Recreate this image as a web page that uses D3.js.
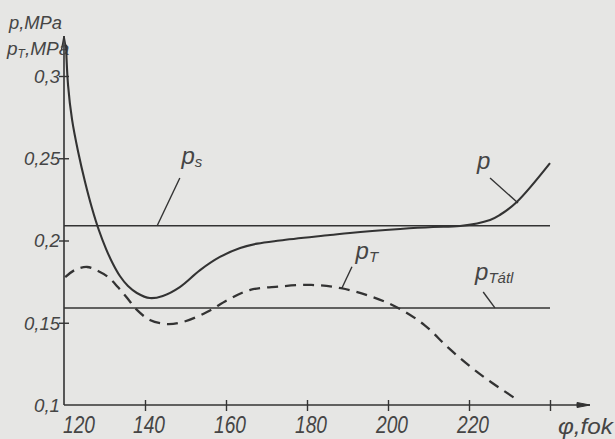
<!DOCTYPE html>
<html>
<head>
<meta charset="utf-8">
<script src="https://cdn.jsdelivr.net/npm/d3@7"></script>
<style>
  html, body { margin: 0; padding: 0; background: #e6e6e4; }
  svg { display: block; }
  text { font-family: "Liberation Sans", Arial, sans-serif; font-style: italic; fill: #454545; }
</style>
</head>
<body>
<svg id="chart" width="615" height="439"></svg>
<script>
// ---- data ----
const xTicks = [140, 160, 180, 200, 220, 240];
const xTickLabels = ["140", "160", "180", "200", "220", ""];
const xOriginLabel = "120";
const yTicks = [0.1, 0.15, 0.2, 0.25, 0.3];
const yTickLabels = ["0,1", "0,15", "0,2", "0,25", "0,3"];

// p curve (solid)
const phiP = [120.5, 121.0, 122.0, 123.5, 125.2, 126.9, 128.6, 130.4, 132.1, 133.8, 135.8, 138.0, 141.2, 144.4, 148.6, 153.6, 158.5, 163.5, 167.7, 173.3, 185.7, 190.6, 203.0, 211.1, 217.8, 225.2, 227.6, 231.8, 240.0];
const valP = [0.319, 0.2945, 0.2733, 0.2538, 0.2356, 0.2198, 0.2064, 0.1948, 0.1857, 0.1784, 0.1723, 0.1681, 0.165, 0.1663, 0.1717, 0.182, 0.190, 0.1954, 0.1981, 0.2000, 0.2033, 0.2046, 0.207, 0.2082, 0.2088, 0.2125, 0.2155, 0.2234, 0.247];

// pT curve (dashed)
const phiT = [120.3, 122.7, 125.7, 128.4, 130.9, 133.3, 135.6, 138.0, 141.2, 145.4, 149.4, 155.3, 160.5, 166, 173, 181, 188.4, 195.8, 202.5, 209, 214.8, 220.5, 225.4, 231.4];
const valT = [0.1778, 0.1821, 0.1839, 0.1815, 0.1778, 0.1717, 0.165, 0.1578, 0.1517, 0.1492, 0.1505, 0.1565, 0.164, 0.170, 0.172, 0.173, 0.171, 0.166, 0.159, 0.1486, 0.135, 0.123, 0.114, 0.104];

// constant levels
const psLevel = 0.209;
const pTatlLevel = 0.159;
const levelRange = [120, 240];

const W = 615, H = 439;
const svg = d3.select("#chart");
const ink = "#333";

const x = d3.scaleLinear().domain([120, 240]).range([64, 550]);
const y = d3.scaleLinear().domain([0.1, 0.3]).range([405, 76]);

// background
svg.append("rect").attr("width", W).attr("height", H).attr("fill", "#e6e6e4");

// axes lines with arrows
const axisG = svg.append("g").attr("stroke", ink).attr("fill", "none");
axisG.append("line").attr("x1", x(120)).attr("y1", y(0.1)).attr("x2", x(120)).attr("y2", y(0.3) - 40).attr("stroke-width", 1.6);
axisG.append("path").attr("d", `M${x(120)-2.5},${y(0.3)-26} L${x(120)},${y(0.3)-40} L${x(120)+2.5},${y(0.3)-26}`).attr("stroke-width", 1.4);
axisG.append("line").attr("x1", x(120)).attr("y1", y(0.1)).attr("x2", x(240) + 40).attr("y2", y(0.1)).attr("stroke-width", 1.6);
axisG.append("path").attr("d", `M${x(240)+27},${y(0.1)-2.5} L${x(240)+40},${y(0.1)} L${x(240)+27},${y(0.1)+2.5} Z`).attr("fill", ink).attr("stroke-width", 1);

// y axis ticks via d3.axisLeft
const yAxis = d3.axisLeft(y).tickValues(yTicks.filter(v => v > 0.1)).tickSize(5).tickFormat("");
const gy = svg.append("g").attr("transform", `translate(${x(120)},0)`).call(yAxis);
gy.select(".domain").remove();
gy.selectAll(".tick line").attr("x1", 5).attr("x2", -5).attr("stroke", ink).attr("stroke-width", 1.4);

// y tick labels
svg.append("g").selectAll("text").data(yTicks).join("text")
  .attr("x", x(120) - 4)
  .attr("y", d => y(d))
  .attr("dy", "0.36em")
  .attr("text-anchor", "end")
  .attr("font-size", 19)
  .attr("textLength", (d, i) => yTickLabels[i].length === 3 ? 26 : 36)
  .attr("lengthAdjust", "spacingAndGlyphs")
  .text((d, i) => yTickLabels[i]);

// x axis ticks via d3.axisBottom
const xAxis = d3.axisBottom(x).tickValues(xTicks).tickSize(5).tickFormat("");
const gx = svg.append("g").attr("transform", `translate(0,${y(0.1)})`).call(xAxis);
gx.select(".domain").remove();
gx.selectAll(".tick line").attr("y1", -5).attr("y2", 6).attr("stroke", ink).attr("stroke-width", 1.4);

// x tick labels
const xLab = [xOriginLabel].concat(xTickLabels);
const xLabVals = [120].concat(xTicks);
svg.append("g").selectAll("text").data(xLabVals).join("text")
  .attr("x", (d, i) => i === 0 ? x(d) + 15 : x(d) + 4)
  .attr("y", 433)
  .attr("text-anchor", "middle")
  .attr("font-size", 23)
  .attr("textLength", (d, i) => xLab[i] ? 32 : null)
  .attr("lengthAdjust", "spacingAndGlyphs")
  .text((d, i) => xLab[i]);

svg.append("text").attr("x", 558).attr("y", 434).attr("font-size", 22)
  .attr("textLength", 55).attr("lengthAdjust", "spacingAndGlyphs").text("φ,fok");

// y axis titles
svg.append("text").attr("x", 9).attr("y", 29).attr("font-size", 19)
  .attr("textLength", 53).attr("lengthAdjust", "spacingAndGlyphs").text("p,MPa");
const t2 = svg.append("text").attr("x", 7).attr("y", 55).attr("font-size", 19);
t2.append("tspan").text("p");
t2.append("tspan").attr("font-size", 12).attr("dy", 3).text("T");
t2.append("tspan").attr("dy", -3).text(",MPa");

// constant level lines
const lev = svg.append("g").attr("stroke", ink).attr("stroke-width", 1.5);
[psLevel, pTatlLevel].forEach(v => {
  lev.append("line").attr("x1", x(levelRange[0])).attr("x2", x(levelRange[1]))
    .attr("y1", y(v)).attr("y2", y(v));
});

// curves
const line = d3.line().x(d => x(d[0])).y(d => y(d[1])).curve(d3.curveCatmullRom.alpha(0.5));
svg.append("path").datum(phiP.map((p, i) => [p, valP[i]]))
  .attr("d", line).attr("fill", "none").attr("stroke", ink).attr("stroke-width", 2.1);
svg.append("path").datum(phiT.map((p, i) => [p, valT[i]]))
  .attr("d", line).attr("fill", "none").attr("stroke", ink).attr("stroke-width", 2.3)
  .attr("stroke-dasharray", "11,7");

// annotation leaders (in data space)
const leaders = [
  [[225.2, 0.238], [232.1, 0.2228]],
  [[148.6, 0.238], [143.0, 0.209]],
  [[191.1, 0.184], [188.6, 0.171]],
  [[223.5, 0.1687], [226.4, 0.159]]
];
svg.append("g").selectAll("path").data(leaders).join("path")
  .attr("d", d => d3.line().x(p => x(p[0])).y(p => y(p[1]))(d))
  .attr("stroke", ink).attr("stroke-width", 1.4).attr("fill", "none");

// curve labels
function lab(phi, v, main, sub) {
  const t = svg.append("text").attr("x", x(phi)).attr("y", y(v)).attr("font-size", 24);
  t.append("tspan").text(main);
  if (sub) t.append("tspan").attr("font-size", 15).attr("dy", 3).text(sub);
}
lab(222.0, 0.2435, "p");
lab(149.0, 0.2465, "p", "s");
lab(192.0, 0.1885, "p", "T");
lab(221.5, 0.1758, "p", "Tátl");
</script>
</body>
</html>
